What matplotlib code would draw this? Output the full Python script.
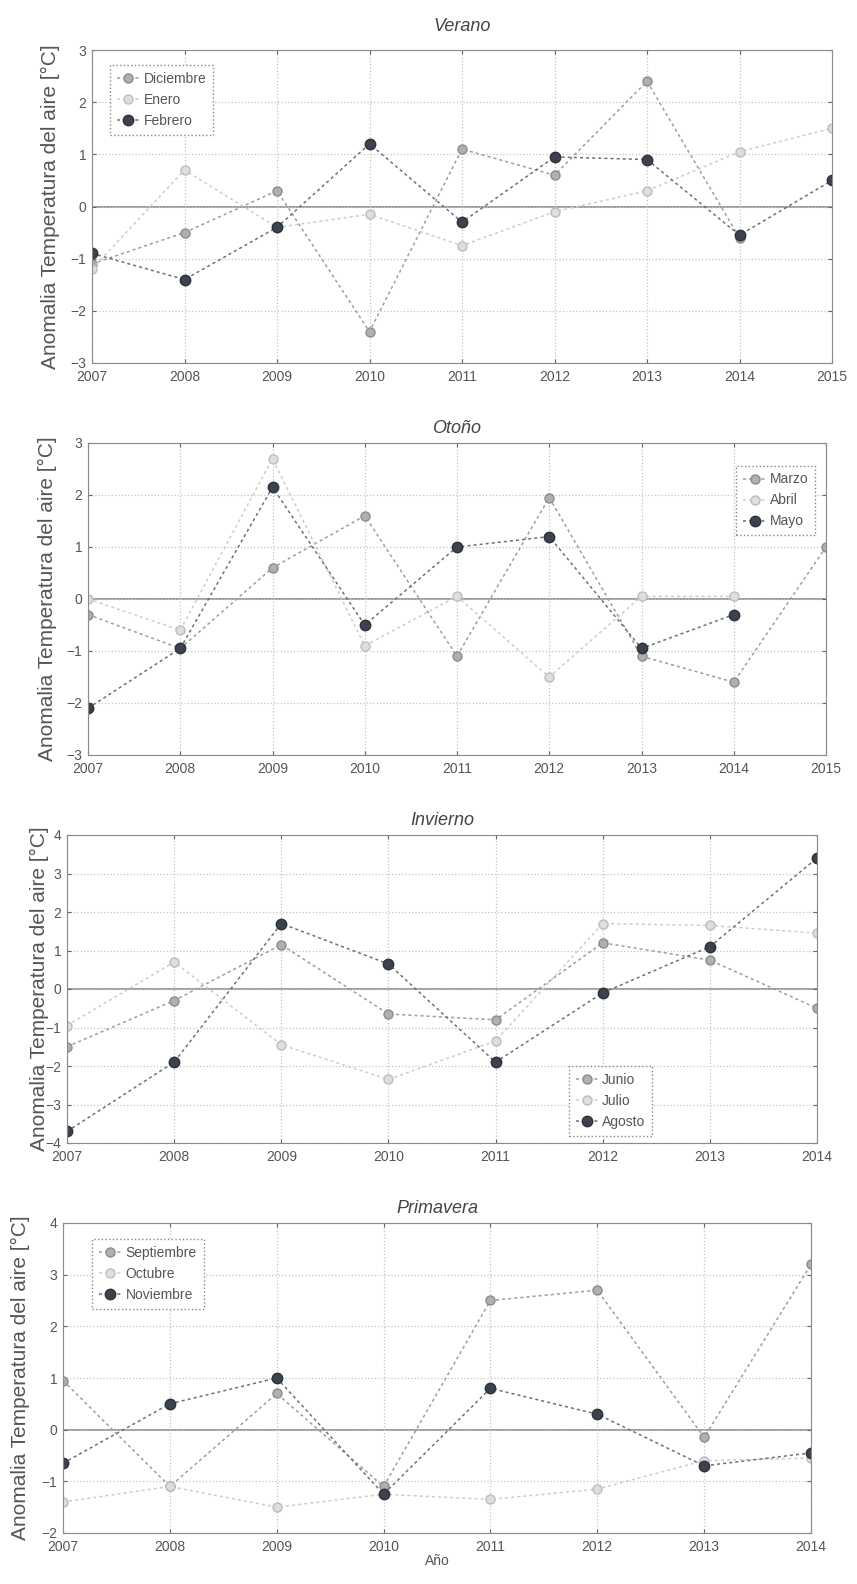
import numpy as np
import matplotlib
matplotlib.use("Agg")
import matplotlib.pyplot as plt

plt.rcParams['font.family'] = ['Liberation Sans', 'DejaVu Sans']

nan = np.nan

# Verano (2007-2015)
years_verano = [2007, 2008, 2009, 2010, 2011, 2012, 2013, 2014, 2015]
diciembre = [-1.1, -0.5, 0.3, -2.4, 1.1, 0.6, 2.4, -0.6, nan]
enero = [-1.2, 0.7, -0.4, -0.15, -0.75, -0.1, 0.3, 1.05, 1.5]
febrero = [-0.9, -1.4, -0.4, 1.2, -0.3, 0.95, 0.9, -0.55, 0.5]

# Otono (2007-2015)
years_otono = [2007, 2008, 2009, 2010, 2011, 2012, 2013, 2014, 2015]
marzo = [-0.3, -0.95, 0.6, 1.6, -1.1, 1.95, -1.1, -1.6, 1.0]
abril = [0.0, -0.6, 2.7, -0.9, 0.05, -1.5, 0.05, 0.05, nan]
mayo = [-2.1, -0.95, 2.15, -0.5, 1.0, 1.2, -0.95, -0.3, nan]

# Invierno (2007-2014)
years_invierno = [2007, 2008, 2009, 2010, 2011, 2012, 2013, 2014]
junio = [-1.5, -0.3, 1.15, -0.65, -0.8, 1.2, 0.75, -0.5]
julio = [-0.95, 0.7, -1.45, -2.35, -1.35, 1.7, 1.65, 1.45]
agosto = [-3.7, -1.9, 1.7, 0.65, -1.9, -0.1, 1.1, 3.4]

# Primavera (2007-2014)
years_primavera = [2007, 2008, 2009, 2010, 2011, 2012, 2013, 2014]
septiembre = [0.95, -1.1, 0.7, -1.1, 2.5, 2.7, -0.15, 3.2]
octubre = [-1.4, -1.1, -1.5, -1.25, -1.35, -1.15, -0.6, -0.55]
noviembre = [-0.65, 0.5, 1.0, -1.25, 0.8, 0.3, -0.7, -0.45]

panels = [
    ("Verano", years_verano, [diciembre, enero, febrero],
     ["Diciembre", "Enero", "Febrero"], (-3, 3), range(-3, 4)),
    ("Otoño", years_otono, [marzo, abril, mayo],
     ["Marzo", "Abril", "Mayo"], (-3, 3), range(-3, 4)),
    ("Invierno", years_invierno, [junio, julio, agosto],
     ["Junio", "Julio", "Agosto"], (-4, 4), range(-4, 5)),
    ("Primavera", years_primavera, [septiembre, octubre, noviembre],
     ["Septiembre", "Octubre", "Noviembre"], (-2, 4), range(-2, 5)),
]

W, H = 857, 1584
# axes boxes in pixels: left, top, right, bottom (the scan is not aligned)
px_boxes = [
    (92, 50, 832, 363),
    (88, 443, 826, 755),
    (67, 835, 817, 1143),
    (63, 1223, 811, 1533),
]
ylabel_x = [50, 47, 39, 20]
title_pad = [14, 7, 7, 7]

styles = [
    dict(color="#9d9d9d", marker="o", mfc="#b0b0b0", mec="#8c8c8c", ms=6.5),
    dict(color="#cdcdcd", marker="o", mfc="#dedede", mec="#bdbdbd", ms=6.5),
    dict(color="#6c7078", marker="o", mfc="#3c424e", mec="#2c313a", ms=7.5),
]

legend_opts = [
    dict(loc="upper left", bbox_to_anchor=(0.015, 0.975)),
    dict(loc="upper right", bbox_to_anchor=(0.995, 0.95)),
    dict(loc="lower left", bbox_to_anchor=(0.66, 0.0)),
    dict(loc="upper left", bbox_to_anchor=(0.03, 0.97)),
]

fig = plt.figure(figsize=(W / 100, H / 100), dpi=100)

for i, (title, years, series, names, ylim, yticks) in enumerate(panels):
    l, t, r, b = px_boxes[i]
    ax = fig.add_axes([l / W, 1 - b / H, (r - l) / W, (b - t) / H])
    for vals, name, st in zip(series, names, styles):
        ax.plot(years, vals, linestyle=(0, (2, 2)), linewidth=1.1,
                label=name, **st)
    ax.axhline(0, color="#8c8c8c", linewidth=1.2, zorder=1)
    ax.set_xlim(years[0], years[-1])
    ax.set_ylim(*ylim)
    ax.set_xticks(years)
    ax.set_yticks(list(yticks))
    ax.tick_params(labelsize=10, colors="#666666", labelcolor="#555555",
                   length=3, direction="in", top=True, right=True)
    ax.tick_params(axis="x", pad=5)
    ax.tick_params(axis="y", pad=4)
    ax.grid(True, linestyle=":", color="#c4c4c4", linewidth=0.9)
    for sp in ax.spines.values():
        sp.set_color("#8a8a8a")
    ax.set_title(title, fontstyle="italic", fontsize=13, color="#444444",
                 pad=title_pad[i])
    fig.text(ylabel_x[i] / W, 1 - (t + b) / 2 / H,
             "Anomalia Temperatura del aire [°C]", rotation=90,
             ha="center", va="center", fontsize=15, color="#555555")
    leg = ax.legend(fontsize=10, fancybox=False, framealpha=1,
                    edgecolor="#888888", labelcolor="#555555",
                    handlelength=1.6, handletextpad=0.3, borderpad=0.5,
                    **legend_opts[i])
    leg.get_frame().set_linestyle(":")
    if i == 3:
        ax.set_xlabel("Año", fontsize=10, color="#555555", labelpad=0)

fig.savefig("out.png", dpi=100)
